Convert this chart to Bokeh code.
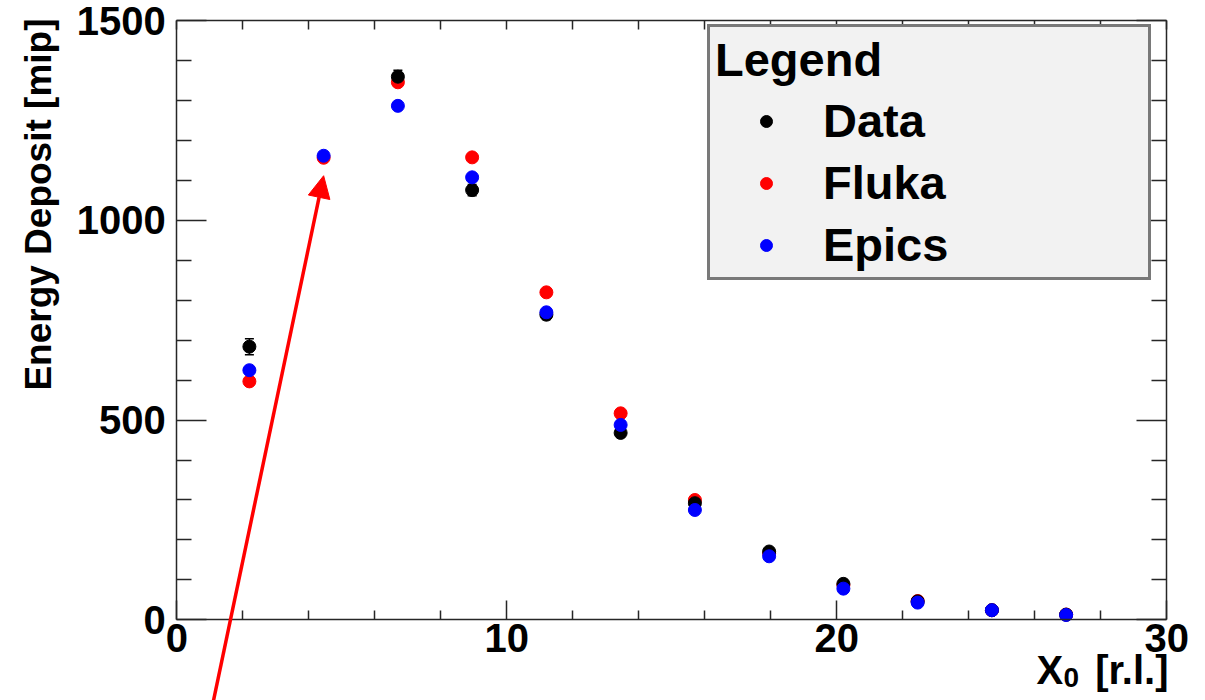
import math
from bokeh.plotting import figure
from bokeh.models import (Range1d, FixedTicker, LinearAxis, ColumnDataSource, Whisker,
                          TeeHead, Arrow, NormalHead, Label, Legend, LegendItem)
from bokeh.embed import file_html
from bokeh.resources import INLINE

nan = float("nan")

# ---- data ----
depth_x0 = [2.2, 4.45, 6.7, 8.95, 11.2, 13.45, 15.7, 17.95, 20.2, 22.45, 24.7, 26.95]
data_mip = [684, nan, 1360, 1076, 764, 468, 292, 171, 90, 46, 24, 13]
data_err = [20, nan, 16, 14, 12, 10, 8, 6, 4, 3, 2, 2]
fluka_mip = [597, 1157, 1346, 1158, 820, 517, 300, 166, 87, 47, 24, 13]
epics_mip = [625, 1162, 1287, 1108, 770, 488, 275, 159, 78, 43, 24, 12]

x_major = [0, 10, 20, 30]
x_minor = [2, 4, 6, 8, 12, 14, 16, 18, 22, 24, 26, 28]
y_major = [0, 500, 1000, 1500]
y_minor = [100, 200, 300, 400, 600, 700, 800, 900, 1100, 1200, 1300, 1400]
x_lim = (0, 30)
y_lim = (0, 1500)

# annotation arrow (data units) pointing at the point where Data is missing
arrow_start = (1.08, -215)
arrow_end = (4.45, 1112)

FONT = "Liberation Sans"
AX = "#262626"

# The frame covers the whole canvas; the ROOT-style box (0..30 x 0..1500)
# is drawn with axes fixed inside it, so nothing (arrow, edge labels) is clipped.
p = figure(width=1205, height=700, output_backend="svg", toolbar_location=None,
           x_range=Range1d(-5.342, 31.173), y_range=Range1d(-202.1, 1550.8),
           min_border_left=0, min_border_right=0, min_border_top=0,
           min_border_bottom=0, background_fill_color="white",
           border_fill_color="white")
p.grid.visible = False
p.outline_line_color = None


def style_axis(ax, ticks, minor, major_in, minor_in, labels=True):
    ax.ticker = FixedTicker(ticks=ticks, minor_ticks=minor)
    ax.axis_line_color = AX
    ax.axis_line_width = 1.5
    ax.major_tick_line_color = AX
    ax.minor_tick_line_color = AX
    ax.major_tick_line_width = 1.5
    ax.minor_tick_line_width = 1.5
    ax.major_tick_in = major_in
    ax.major_tick_out = 0
    ax.minor_tick_in = minor_in
    ax.minor_tick_out = 0
    if labels:
        ax.major_label_text_font = FONT
        ax.major_label_text_font_style = "bold"
        ax.major_label_text_font_size = "40px"
        ax.major_label_text_color = "black"
    else:
        ax.major_label_overrides = {t: "" for t in ticks}
        ax.major_label_text_font_size = "1px"
        ax.major_label_standoff = 0


xb = p.xaxis[0]
style_axis(xb, x_major, x_minor, 19, 9)
xb.fixed_location = y_lim[0]
xb.bounds = x_lim
xb.major_label_standoff = 4
yl = p.yaxis[0]
style_axis(yl, y_major, y_minor, 30, 15)
yl.fixed_location = x_lim[0]
yl.bounds = y_lim
yl.major_label_standoff = 11

xt = LinearAxis(fixed_location=y_lim[1], bounds=x_lim)
style_axis(xt, x_major, x_minor, 9, 9, labels=False)
p.add_layout(xt, "above")
yr = LinearAxis(fixed_location=x_lim[1], bounds=y_lim)
style_axis(yr, y_major, y_minor, 30, 15, labels=False)
p.add_layout(yr, "right")

src = ColumnDataSource(dict(x=depth_x0, data=data_mip,
                            fluka=fluka_mip, epics=epics_mip))

# error bars only where Data exists
ok = [i for i, d in enumerate(data_mip) if d == d]
err_src = ColumnDataSource(dict(
    x=[depth_x0[i] for i in ok],
    lo=[data_mip[i] - data_err[i] for i in ok],
    hi=[data_mip[i] + data_err[i] for i in ok]))

r_fluka = p.scatter("x", "fluka", source=src, size=13, color="#ff0000")
p.add_layout(Whisker(source=err_src, base="x", lower="lo", upper="hi",
                     line_color="black", line_width=1.5,
                     upper_head=TeeHead(size=9, line_color="black", line_width=1.5),
                     lower_head=TeeHead(size=9, line_color="black", line_width=1.5)))
r_data = p.scatter("x", "data", source=src, size=13, color="black")
r_epics = p.scatter("x", "epics", source=src, size=13, color="#0000ff")

p.add_layout(Arrow(x_start=arrow_start[0], y_start=arrow_start[1],
                   x_end=arrow_end[0], y_end=arrow_end[1],
                   line_color="#ff0000", line_width=3.5,
                   end=NormalHead(size=22, fill_color="#ff0000", line_color="#ff0000")))

# legend: location = bottom-left corner of the box, screen px from frame bottom-left
legend = Legend(items=[LegendItem(label="Data", renderers=[r_data]),
                       LegendItem(label="Fluka", renderers=[r_fluka]),
                       LegendItem(label="Epics", renderers=[r_epics])],
                location=(707, 420), title="Legend")
legend.title_text_font = FONT
legend.title_text_font_style = "bold"
legend.title_text_font_size = "47px"
legend.title_text_color = "black"
legend.title_standoff = 6
legend.label_text_font = FONT
legend.label_text_font_style = "bold"
legend.label_text_font_size = "47px"
legend.label_text_color = "black"
legend.glyph_width = 102
legend.glyph_height = 30
legend.label_standoff = 6
legend.label_width = 320
legend.label_height = 50
legend.spacing = 7
legend.padding = 5
legend.margin = 0
legend.border_line_color = "black"
legend.border_line_width = 3
legend.background_fill_color = "#f2f2f2"
legend.background_fill_alpha = 1.0
p.add_layout(legend)

# axis titles, ROOT style (at the far ends of the axes); screen px from bottom-left
p.add_layout(Label(x=17, y=682, x_units="screen", y_units="screen",
                   text="Energy Deposit [mip]", angle=math.pi / 2,
                   text_align="right", text_baseline="top",
                   text_font=FONT, text_font_style="bold", text_font_size="37px",
                   text_color="black"))
p.add_layout(Label(x=1036, y=53, x_units="screen", y_units="screen",
                   text="X", text_align="left", text_baseline="top",
                   text_font=FONT, text_font_style="bold", text_font_size="40px",
                   text_color="black"))
p.add_layout(Label(x=1063, y=33, x_units="screen", y_units="screen",
                   text="0", text_align="left", text_baseline="top",
                   text_font=FONT, text_font_style="bold", text_font_size="28px",
                   text_color="black"))
p.add_layout(Label(x=1168, y=53, x_units="screen", y_units="screen",
                   text="[r.l.]", text_align="right", text_baseline="top",
                   text_font=FONT, text_font_style="bold", text_font_size="40px",
                   text_color="black"))

open("out.html", "w").write(file_html(p, INLINE))
